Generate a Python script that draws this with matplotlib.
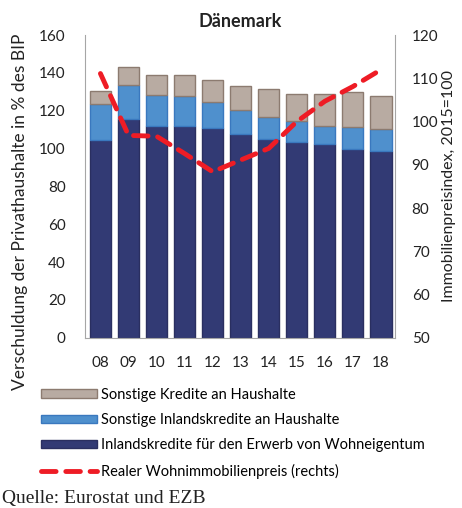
import matplotlib
matplotlib.use("Agg")
import matplotlib.pyplot as plt
from matplotlib.patches import Patch
from matplotlib.lines import Line2D
import numpy as np

years = ["08", "09", "10", "11", "12", "13", "14", "15", "16", "17", "18"]
wohneigentum = [104.5, 115.5, 111.9, 111.9, 111.0, 107.9, 105.2, 103.7, 102.2, 99.6, 98.6]
sonst_inland = [19.0, 18.1, 16.6, 15.7, 13.4, 12.3, 11.7, 10.9, 9.7, 11.6, 11.7]
sonst_kredite = [7.1, 9.3, 10.4, 11.3, 12.0, 12.8, 14.4, 14.2, 16.9, 18.7, 17.6]
preis = [111.1, 96.8, 96.6, 92.6, 88.4, 91.1, 93.8, 100.0, 104.7, 108.1, 112.0]

c_brown, e_brown = "#B8ABA2", "#8C7B70"
c_light, e_light = "#4F90CD", "#3A78BE"
c_navy, e_navy = "#323A74", "#2A2F60"
c_red = "#EE1C25"

plt.rcParams['font.family'] = ['Lato', 'DejaVu Sans']
fig = plt.figure(figsize=(4.62, 5.08), dpi=100)
ax = fig.add_axes([0.184, 0.335, 0.671, 0.596])
x = np.arange(len(years))
w = 0.75
b1 = np.array(wohneigentum)
b2 = b1 + np.array(sonst_inland)
ax.bar(x, wohneigentum, w, color=c_navy, edgecolor=e_navy, linewidth=1)
ax.bar(x, sonst_inland, w, bottom=b1, color=c_light, edgecolor=e_light, linewidth=1)
ax.bar(x, sonst_kredite, w, bottom=b2, color=c_brown, edgecolor=e_brown, linewidth=1)
ax.set_ylim(0, 160)
ax.set_yticks(range(0, 161, 20))
ax.set_xlim(-0.55, 10.5)
ax.set_xticks(x)
ax.set_xticklabels(years)
ax.tick_params(axis='both', length=0, labelsize=11, colors='#222222')
ax.tick_params(axis='y', pad=14)
ax.tick_params(axis='x', pad=13)
for s in ['left', 'bottom']:
    ax.spines[s].set_color('#A6A6A6')
ax.spines['top'].set_visible(False)
ax.spines['right'].set_visible(False)
ax.set_title("Dänemark", fontsize=13, fontweight='bold', pad=6, color='#222222')
ax.set_ylabel("Verschuldung der Privathaushalte in % des BIP", fontsize=12.5, color='#222222')
ax.yaxis.set_label_coords(-0.185, 0.416)

ax2 = ax.twinx()
ax2.plot(x, preis, color=c_red, linewidth=3.5, dashes=(3, 2), dash_capstyle='round')
ax2.set_ylim(50, 120)
ax2.set_yticks(range(50, 121, 10))
ax2.tick_params(axis='y', length=0, labelsize=11, colors='#222222', pad=12)
ax2.spines['right'].set_color('#A6A6A6')
ax2.spines['top'].set_visible(False)
ax2.spines['left'].set_visible(False)
ax2.spines['bottom'].set_visible(False)
ax2.set_ylabel("Immobilienpreisindex, 2015=100", fontsize=11.5, rotation=90, color='#222222')
ax2.yaxis.set_label_coords(1.152, 0.5)

handles = [
    Patch(facecolor=c_brown, edgecolor=e_brown),
    Patch(facecolor=c_light, edgecolor=e_light),
    Patch(facecolor=c_navy, edgecolor=e_navy),
    Line2D([0], [0], color=c_red, linewidth=3.5, dashes=(3, 2), dash_capstyle='round'),
]
labels = [
    "Sonstige Kredite an Haushalte",
    "Sonstige Inlandskredite an Haushalte",
    "Inlandskredite für den Erwerb von Wohneigentum",
    "Realer Wohnimmobilienpreis (rechts)",
]
fig.legend(handles, labels, loc='upper left', bbox_to_anchor=(0.089, 0.237), frameon=False,
           fontsize=10.5, handlelength=3.8, handleheight=0.5, handletextpad=0.3,
           labelspacing=0.78, borderaxespad=0, borderpad=0)
fig.text(0.005, 0.018, "Quelle: Eurostat und EZB", fontsize=14, family='Liberation Serif',
         ha='left', va='center', color='#222222')
fig.savefig("out.png", dpi=100)
